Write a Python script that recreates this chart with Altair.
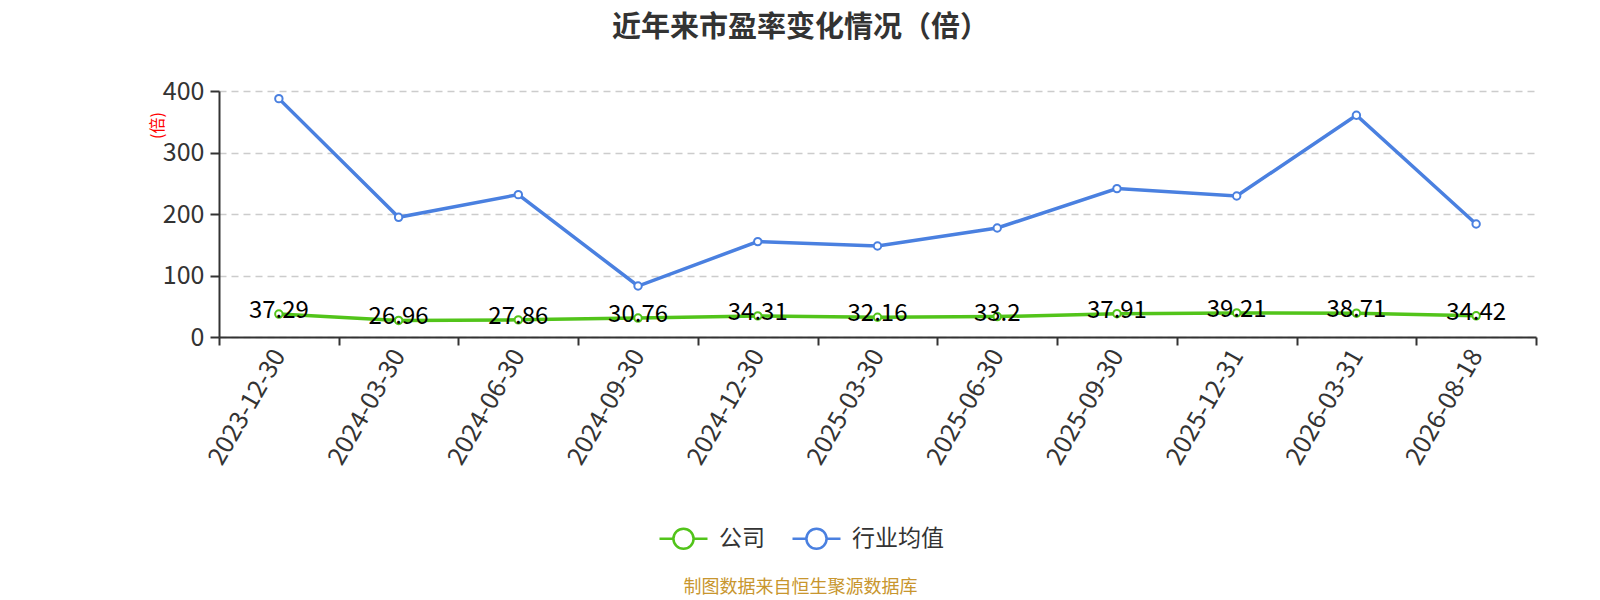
import altair as alt
import pandas as pd

dates = ["2023-12-30", "2024-03-30", "2024-06-30", "2024-09-30", "2024-12-30",
         "2025-03-30", "2025-06-30", "2025-09-30", "2025-12-31", "2026-03-31", "2026-08-18"]
company = [37.29, 26.96, 27.86, 30.76, 34.31, 32.16, 33.2, 37.91, 39.21, 38.71, 34.42]
industry = [387.6, 194.6, 231.5, 82.9, 155.1, 148.0, 177.2, 241.3, 229.3, 360.5, 183.7]
series_names = ["公司", "行业均值"]
series_colors = ["#52c41a", "#4a80e0"]
y_ticks = [0, 100, 200, 300, 400]

rows = []
for d, v in zip(dates, company):
    rows.append({"date": d, "value": v, "series": series_names[0]})
for d, v in zip(dates, industry):
    rows.append({"date": d, "value": v, "series": series_names[1]})
df = pd.DataFrame(rows)

FONT = "Noto Sans CJK SC"

x_enc = alt.X(
    "date:N", sort=dates,
    scale=alt.Scale(type="band", paddingInner=0, paddingOuter=0),
    axis=alt.Axis(
        labelAngle=-60, labelAlign="right", labelBaseline="middle",
        labelFontSize=25, labelColor="#333333", labelPadding=6,
        tickBand="extent", tickSize=8, tickColor="#333333", tickWidth=2,
        domainColor="#333333", domainWidth=2, grid=False,
        title="制图数据来自恒生聚源数据库", titleColor="#c8962e", titleFontSize=18,
        titleFontWeight="normal", titleX=581, titleY=250,
        titleAlign="center", titleBaseline="middle",
    ),
)
y_enc = alt.Y(
    "value:Q",
    scale=alt.Scale(domain=[0, 400], nice=False),
    axis=alt.Axis(
        values=y_ticks, labelFontSize=25, labelColor="#333333", labelPadding=6,
        tickSize=9, tickColor="#333333", tickWidth=2,
        domainColor="#333333", domainWidth=2,
        grid=True, gridDash=[7, 5], gridColor="#cccccc", gridWidth=1.5,
        title="(倍)", titleColor="red", titleFontSize=16, titleFontWeight="normal",
        titleX=-62, titleY=34, titleAngle=270, titleAlign="center", titleBaseline="middle",
    ),
)

sym = "M-1,0L-0.42,0M0.42,0L1,0M-0.42,0A0.42,0.42,0,1,1,0.42,0A0.42,0.42,0,1,1,-0.42,0"

lines = alt.Chart(df).mark_line(
    strokeWidth=3.5,
    point=alt.OverlayMarkDef(filled=False, fill="white", size=55, strokeWidth=2),
).encode(
    x=x_enc,
    y=y_enc,
    color=alt.Color(
        "series:N",
        scale=alt.Scale(domain=series_names, range=series_colors),
        legend=alt.Legend(
            orient="none", legendX=439, legendY=422, direction="horizontal",
            symbolType=sym, symbolSize=2304, symbolStrokeWidth=2.5,
            labelFontSize=23, labelColor="#333333", columnPadding=22,
            labelOffset=10, title=None,
        ),
    ),
)

texts = alt.Chart(df).transform_filter(
    alt.datum.series == series_names[0]
).mark_text(fontSize=24, color="black", baseline="middle", dy=-3, font=FONT).encode(
    x=alt.X("date:N", sort=dates),
    y=alt.Y("value:Q"),
    text=alt.Text("value:N"),
)

chart = alt.layer(lines, texts).properties(
    width=1317, height=246,
    padding={"left": 211, "top": 83, "right": 56, "bottom": 263},
    autosize=alt.AutoSizeParams(type="none"),
    title=alt.TitleParams(
        "近年来市盈率变化情况（倍）", fontSize=29, fontWeight="bold", color="#333333",
        anchor="middle", dx=-77, offset=36, font=FONT,
    ),
).configure(font=FONT).configure_view(stroke=None)

chart.save("out.html", embed_options={"renderer": "svg", "actions": False})
